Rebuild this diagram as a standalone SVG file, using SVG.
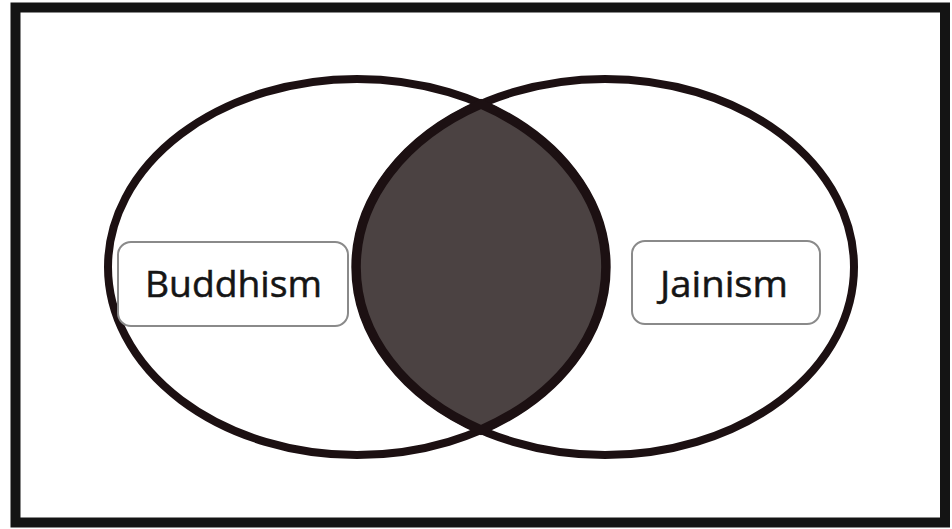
<svg xmlns="http://www.w3.org/2000/svg" width="952" height="529" viewBox="0 0 952 529">
<style>
.ring{fill:none;stroke:#1c1012;stroke-width:8}
.box{fill:#fff;stroke:#8a8a8a;stroke-width:2}
.lbl{font-family:"Open Sans","Noto Sans",sans-serif;font-size:36px;fill:#151515;stroke:#151515;stroke-width:0.5}
</style>
<rect x="0" y="0" width="952" height="529" fill="#fff"/>
<rect id="frame" x="15.5" y="7.5" width="929.5" height="515" fill="none" stroke="#141414" stroke-width="10"/>
<g id="buddhism-circle"><ellipse class="ring" cx="357" cy="267" rx="249" ry="188"/></g>
<g id="jainism-circle"><ellipse class="ring" cx="605" cy="267" rx="249" ry="188"/></g>
<g id="overlap">
<path d="M481,104 A249,188 0 0 1 481,430 A249,188 0 0 1 481,104 Z" fill="#4b4242" stroke="#1c1012" stroke-width="9.5"/>
</g>
<g id="buddhism">
<rect class="box" x="118" y="242" width="230" height="84" rx="13"/>
<text class="lbl" x="145" y="297" textLength="177" lengthAdjust="spacingAndGlyphs">Buddhism</text>
</g>
<g id="jainism">
<rect class="box" x="632" y="241" width="188" height="83" rx="13"/>
<text class="lbl" x="660" y="297" textLength="128" lengthAdjust="spacingAndGlyphs">Jainism</text>
</g>
<g id="connectors"></g>
</svg>
